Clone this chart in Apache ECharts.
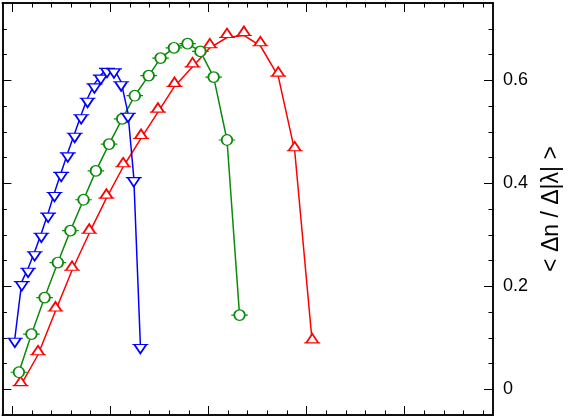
<!DOCTYPE html>
<html>
<head>
<meta charset="utf-8">
<script src="https://cdn.jsdelivr.net/npm/echarts@6/dist/echarts.min.js"></script>
<style>
html, body { margin: 0; padding: 0; background: #fff; }
#chart { width: 571px; height: 418px; }
</style>
</head>
<body>
<div id="chart"></div>
<script>
// 蓝色 (倒三角)
var blueX = [0.027, 0.098, 0.162, 0.229, 0.297, 0.366, 0.431, 0.499, 0.566, 0.637, 0.703, 0.768, 0.838, 0.903, 0.966, 1.037, 1.110, 1.180, 1.239, 1.306];
var blueY = [0.099, 0.209, 0.235, 0.267, 0.303, 0.342, 0.382, 0.421, 0.459, 0.497, 0.533, 0.565, 0.593, 0.610, 0.623, 0.622, 0.597, 0.536, 0.411, 0.087];
// 绿色 (圆)
var greenX = [0.068, 0.196, 0.330, 0.465, 0.593, 0.727, 0.853, 0.987, 1.121, 1.249, 1.391, 1.512, 1.648, 1.787, 1.918, 2.053, 2.189, 2.317];
var greenY = [0.033, 0.107, 0.178, 0.246, 0.308, 0.368, 0.424, 0.476, 0.525, 0.570, 0.609, 0.643, 0.663, 0.671, 0.656, 0.606, 0.484, 0.144];
// 红色 (正三角)
var redX = [0.085, 0.263, 0.441, 0.610, 0.785, 0.960, 1.131, 1.313, 1.485, 1.654, 1.838, 2.014, 2.189, 2.361, 2.529, 2.711, 2.879, 3.058];
var redY = [0.007, 0.067, 0.152, 0.231, 0.303, 0.371, 0.432, 0.487, 0.538, 0.588, 0.626, 0.663, 0.683, 0.687, 0.667, 0.608, 0.463, 0.090];

// 刻度
var xMajor = [0, 1, 2, 3, 4];
var xMinor = [0.2, 0.4, 0.6, 0.8, 1.2, 1.4, 1.6, 1.8, 2.2, 2.4, 2.6, 2.8, 3.2, 3.4, 3.6, 3.8, 4.2, 4.4, 4.6, 4.8];
var yMajor = [0, 0.2, 0.4, 0.6];
var yMinor = [0.05, 0.1, 0.15, 0.25, 0.3, 0.35, 0.45, 0.5, 0.55, 0.65, 0.7];
var yName = "< Δn / Δ|λ| >";

var circleBar = "path://M-8.3,0 L-5.3,0 M5.3,0 L8.3,0 M-5.3,0 A5.3,5.3 0 1,0 5.3,0 A5.3,5.3 0 1,0 -5.3,0 Z";
var triUpBar = "path://M-6,0 L6,0 L0,-9 Z M-8,0 L8,0";
var triDownBar = "path://M-6,0 L6,0 L0,9 Z M-8,0 L8,0";

function pairs(xs, ys) {
    var out = [];
    for (var i = 0; i < xs.length; i++) {
        out.push([xs[i], ys[i]]);
    }
    return out;
}

function xAx(pos, ticks, len) {
    return {
        type: "value",
        position: pos,
        min: -0.1,
        max: 4.9,
        axisLine: {show: true, onZero: false, lineStyle: {color: "#000", width: 1.5}},
        axisTick: {show: true, inside: true, length: len, customValues: ticks, lineStyle: {color: "#000", width: 1}},
        axisLabel: {show: false},
        splitLine: {show: false}
    };
}

function yAx(pos, ticks, len) {
    return {
        type: "value",
        position: pos,
        min: -0.05,
        max: 0.75,
        axisLine: {show: true, onZero: false, lineStyle: {color: "#000", width: 1.5}},
        axisTick: {show: true, inside: true, length: len, customValues: ticks, lineStyle: {color: "#000", width: 1}},
        axisLabel: {show: false},
        splitLine: {show: false}
    };
}

var yLabelAxis = yAx("right", yMajor, 9);
yLabelAxis.axisLabel = {
    show: true,
    customValues: yMajor,
    margin: 10,
    fontSize: 18,
    color: "#000",
    fontFamily: "Liberation Sans",
    formatter: function (v) { return v === 0 ? "0" : v.toFixed(1); }
};
yLabelAxis.name = yName;
yLabelAxis.nameLocation = "middle";
yLabelAxis.nameRotate = 90;
yLabelAxis.nameGap = 47;
yLabelAxis.nameTextStyle = {fontSize: 23, color: "#000", fontFamily: "Liberation Sans"};

function lineSeries(name, color, data, symbol, size, offset) {
    return {
        name: name,
        type: "line",
        xAxisIndex: 0,
        yAxisIndex: 0,
        data: data,
        symbol: symbol,
        symbolSize: size,
        symbolOffset: offset,
        showSymbol: true,
        showAllSymbol: true,
        animation: false,
        lineStyle: {color: color, width: 1.5},
        itemStyle: {color: "#fff", borderColor: color, borderWidth: 1.5}
    };
}

var option = {
    animation: false,
    backgroundColor: "#fff",
    grid: {left: 2.4, top: 3, width: 495, height: 412, containLabel: false},
    xAxis: [
        xAx("bottom", xMajor, 9),
        xAx("bottom", xMinor, 4.5),
        xAx("top", xMajor, 9),
        xAx("top", xMinor, 4.5)
    ],
    yAxis: [
        yLabelAxis,
        yAx("right", yMinor, 4.5),
        yAx("left", yMajor, 9),
        yAx("left", yMinor, 4.5)
    ],
    series: [
        lineSeries("red", "#ff0000", pairs(redX, redY), triUpBar, [16, 9], [0, -4.5]),
        lineSeries("green", "#0a8a0a", pairs(greenX, greenY), circleBar, [16.6, 10.6], [0, 0]),
        lineSeries("blue", "#0000ff", pairs(blueX, blueY), triDownBar, [16, 9], [0, 4.5])
    ]
};

var chart = echarts.init(document.getElementById("chart"), null, {renderer: "canvas"});
chart.setOption(option);
</script>
</body>
</html>
